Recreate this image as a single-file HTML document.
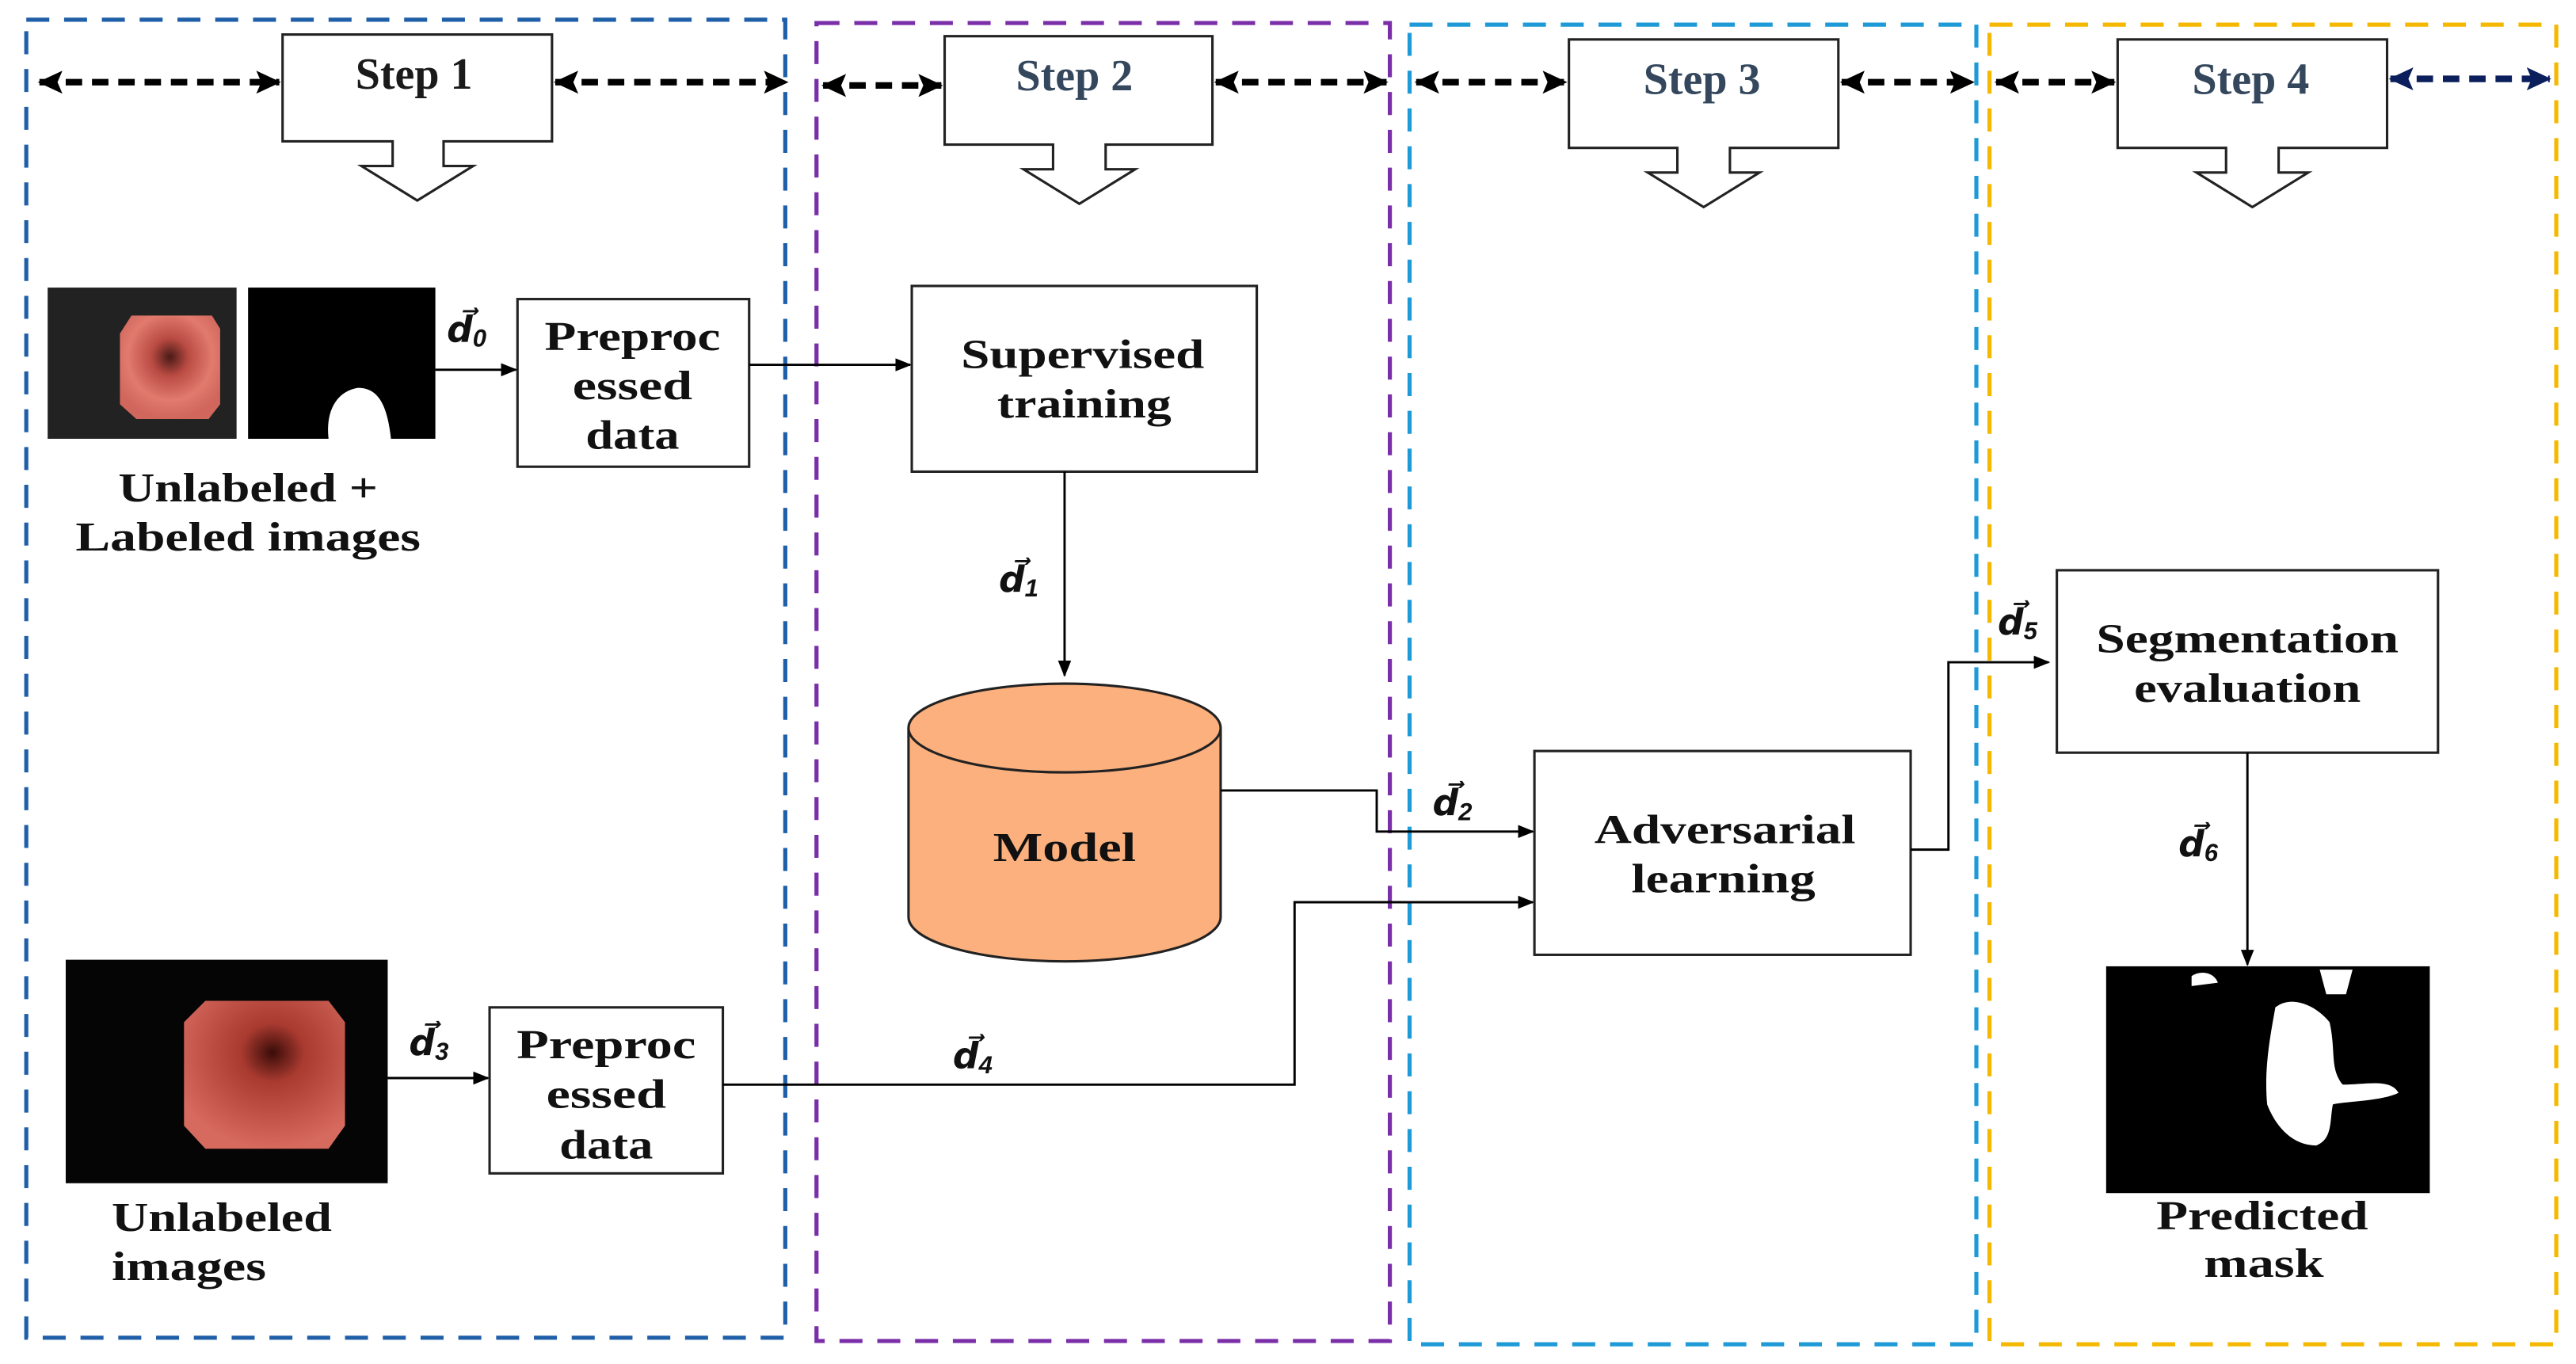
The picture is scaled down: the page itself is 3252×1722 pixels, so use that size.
<!DOCTYPE html>
<html><head><meta charset="utf-8"><style>
html,body{margin:0;padding:0;background:#fff;}
svg{display:block;}
text{font-family:"Liberation Serif",serif;font-weight:bold;}
.lb{font-size:25px;fill:#111;text-anchor:middle;}
.st{font-size:27px;fill:#34475c;text-anchor:middle;}
.dl{font-family:"Liberation Sans",sans-serif;font-style:italic;font-size:22px;fill:#111;}
</style></head><body>
<svg width="3252" height="1722" viewBox="0 0 1568 830" preserveAspectRatio="none" xmlns="http://www.w3.org/2000/svg">
<defs>
<marker id="ah" markerWidth="10" markerHeight="10" refX="9" refY="5" orient="auto" markerUnits="userSpaceOnUse"><path d="M0,1 L10,5 L0,9 Z" fill="#000"/></marker>
<marker id="dh" markerWidth="16" markerHeight="16" refX="14" refY="8" orient="auto-start-reverse" markerUnits="userSpaceOnUse"><path d="M0,1 L15,8 L0,15 L3,8 Z" fill="#000"/></marker>
<marker id="nh" markerWidth="16" markerHeight="16" refX="14" refY="8" orient="auto-start-reverse" markerUnits="userSpaceOnUse"><path d="M0,1 L15,8 L0,15 L3,8 Z" fill="#0a1f5c"/></marker>
<radialGradient id="en" cx="0.5" cy="0.4" r="0.6"><stop offset="0" stop-color="#4a1a16"/><stop offset="0.3" stop-color="#b84a42"/><stop offset="0.7" stop-color="#e27a6e"/><stop offset="1" stop-color="#d0665c"/></radialGradient>
<radialGradient id="en2" cx="0.55" cy="0.35" r="0.65"><stop offset="0" stop-color="#3a0c08"/><stop offset="0.3" stop-color="#a83a30"/><stop offset="1" stop-color="#d76a5e"/></radialGradient>
</defs>
<g fill="none" stroke-width="2.5" stroke-dasharray="14,9">
<rect x="16" y="12" width="462" height="802" stroke="#1f5fa8"/>
<rect x="497" y="14" width="349" height="802" stroke="#7a2fa8"/>
<rect x="858" y="15" width="345" height="803" stroke="#1e9ad6"/>
<rect x="1211" y="15" width="345" height="803" stroke="#f5b800"/>
</g>
<g stroke="#000" stroke-width="4" stroke-dasharray="10,6" fill="none">
<line x1="24" y1="50" x2="170" y2="50" marker-start="url(#dh)" marker-end="url(#dh)"/>
<line x1="338" y1="50" x2="479" y2="50" marker-start="url(#dh)" marker-end="url(#dh)"/>
<line x1="501" y1="52" x2="573" y2="52" marker-start="url(#dh)" marker-end="url(#dh)"/>
<line x1="740" y1="50" x2="844" y2="50" marker-start="url(#dh)" marker-end="url(#dh)"/>
<line x1="862" y1="50" x2="953" y2="50" marker-start="url(#dh)" marker-end="url(#dh)"/>
<line x1="1121" y1="50" x2="1201" y2="50" marker-start="url(#dh)" marker-end="url(#dh)"/>
<line x1="1215" y1="50" x2="1287" y2="50" marker-start="url(#dh)" marker-end="url(#dh)"/>
<line x1="1455" y1="48" x2="1552" y2="48" stroke="#0a1f5c" marker-start="url(#nh)" marker-end="url(#nh)"/>
</g>
<g fill="#fff" stroke="#222" stroke-width="1.5">
<path d="M172,21 H336 V86 H270 V101 H288 L254,122 L220,101 H239 V86 H172 Z"/>
<path d="M575,22 H738 V88 H673 V103 H691 L657,124 L623,103 H641 V88 H575 Z"/>
<path d="M955,24 H1119 V90 H1053 V105 H1071 L1037,126 L1003,105 H1021 V90 H955 Z"/>
<path d="M1289,24 H1453 V90 H1387 V105 H1405 L1371,126 L1337,105 H1355 V90 H1289 Z"/>
</g>
<text class="st" x="252" y="54" style="fill:#1a1a1a">Step 1</text>
<text class="st" x="654" y="55">Step 2</text>
<text class="st" x="1036" y="57">Step 3</text>
<text class="st" x="1370" y="57">Step 4</text>
<rect x="29" y="175" width="115" height="92" fill="#222"/>
<path d="M80,192 H129 L134,200 V246 L127,255 H83 L73,246 V203 Z" fill="url(#en)"/>
<rect x="151" y="175" width="114" height="92" fill="#000"/>
<path d="M200,267 C198,250 205,238 218,236 C232,236 236,250 238,267 Z" fill="#fff"/>
<rect x="40" y="584" width="196" height="136" fill="#050505"/>
<path d="M125,609 H200 L210,622 V685 L200,699 H125 L112,685 V622 Z" fill="url(#en2)"/>
<rect x="1282" y="588" width="197" height="138" fill="#000"/>
<path d="M1385,613 C1395,605 1410,612 1418,622 C1422,640 1418,650 1426,660 C1440,660 1455,656 1460,665 C1450,670 1430,670 1420,672 C1418,682 1420,693 1410,697 C1395,697 1385,685 1380,672 C1378,650 1382,630 1385,613 Z" fill="#fff"/>
<path d="M1412,590 H1432 L1428,605 H1416 Z M1334,594 C1340,590 1348,592 1350,598 L1334,600 Z" fill="#fff"/>
<g fill="#fff" stroke="#222" stroke-width="1.5">
<rect x="315" y="182" width="141" height="102"/>
<rect x="555" y="174" width="210" height="113"/>
<rect x="934" y="457" width="229" height="124"/>
<rect x="1252" y="347" width="232" height="111"/>
<rect x="298" y="613" width="142" height="101"/>
</g>
<path d="M553,443 V558 A95,27 0 0 0 743,558 V443" fill="#fbb07e" stroke="#222" stroke-width="1.5"/>
<ellipse cx="648" cy="443" rx="95" ry="27" fill="#fbb07e" stroke="#222" stroke-width="1.5"/>
<text class="lb" x="648" y="524" textLength="87" lengthAdjust="spacingAndGlyphs">Model</text>
<g stroke="#000" stroke-width="1.4" fill="none">
<line x1="265" y1="225" x2="314" y2="225" marker-end="url(#ah)"/>
<line x1="456" y1="222" x2="554" y2="222" marker-end="url(#ah)"/>
<line x1="648" y1="287" x2="648" y2="411" marker-end="url(#ah)"/>
<polyline points="743,481 838,481 838,506 933,506" marker-end="url(#ah)"/>
<polyline points="1163,517 1186,517 1186,403 1247,403" marker-end="url(#ah)"/>
<line x1="1368" y1="458" x2="1368" y2="587" marker-end="url(#ah)"/>
<line x1="236" y1="656" x2="297" y2="656" marker-end="url(#ah)"/>
<polyline points="440,660 788,660 788,549 933,549" marker-end="url(#ah)"/>
</g>
<text class="dl" x="272" y="208">d⃗<tspan font-size="15" dy="3">0</tspan></text>
<text class="dl" x="608" y="360">d⃗<tspan font-size="15" dy="3">1</tspan></text>
<text class="dl" x="872" y="496">d⃗<tspan font-size="15" dy="3">2</tspan></text>
<text class="dl" x="249" y="642">d⃗<tspan font-size="15" dy="3">3</tspan></text>
<text class="dl" x="580" y="650">d⃗<tspan font-size="15" dy="3">4</tspan></text>
<text class="dl" x="1216" y="386">d⃗<tspan font-size="15" dy="3">5</tspan></text>
<text class="dl" x="1326" y="521">d⃗<tspan font-size="15" dy="3">6</tspan></text>
<g lengthAdjust="spacingAndGlyphs">
<text class="lb" x="385" y="213" textLength="107" lengthAdjust="spacingAndGlyphs">Preproc</text>
<text class="lb" x="385" y="243" textLength="73" lengthAdjust="spacingAndGlyphs">essed</text>
<text class="lb" x="385" y="273" textLength="57" lengthAdjust="spacingAndGlyphs">data</text>
<text class="lb" x="369" y="644" textLength="109" lengthAdjust="spacingAndGlyphs">Preproc</text>
<text class="lb" x="369" y="674" textLength="73" lengthAdjust="spacingAndGlyphs">essed</text>
<text class="lb" x="369" y="705" textLength="57" lengthAdjust="spacingAndGlyphs">data</text>
<text class="lb" x="659" y="224" textLength="148" lengthAdjust="spacingAndGlyphs">Supervised</text>
<text class="lb" x="660" y="254" textLength="106" lengthAdjust="spacingAndGlyphs">training</text>
<text class="lb" x="1050" y="513" textLength="159" lengthAdjust="spacingAndGlyphs">Adversarial</text>
<text class="lb" x="1049" y="543" textLength="112" lengthAdjust="spacingAndGlyphs">learning</text>
<text class="lb" x="1368" y="397" textLength="184" lengthAdjust="spacingAndGlyphs">Segmentation</text>
<text class="lb" x="1368" y="427" textLength="138" lengthAdjust="spacingAndGlyphs">evaluation</text>
<text class="lb" x="151" y="305" textLength="158" lengthAdjust="spacingAndGlyphs">Unlabeled +</text>
<text class="lb" x="151" y="335" textLength="210" lengthAdjust="spacingAndGlyphs">Labeled images</text>
<text class="lb" x="135" y="749" textLength="134" lengthAdjust="spacingAndGlyphs">Unlabeled</text>
<text class="lb" x="115" y="779" textLength="94" lengthAdjust="spacingAndGlyphs">images</text>
<text class="lb" x="1377" y="748" textLength="129" lengthAdjust="spacingAndGlyphs">Predicted</text>
<text class="lb" x="1378" y="777" textLength="73" lengthAdjust="spacingAndGlyphs">mask</text>
</g>
</svg>
</body></html>
